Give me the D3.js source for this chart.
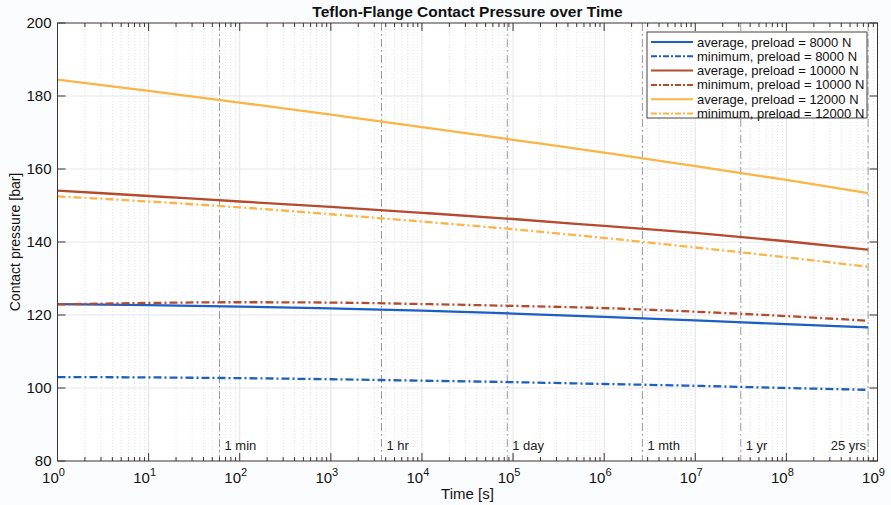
<!DOCTYPE html>
<html>
<head>
<meta charset="utf-8">
<script src="https://cdn.jsdelivr.net/npm/d3@7"></script>
<style>
  body { margin: 0; background: #fbfcfe; }
  svg { font-family: "Liberation Sans", Arial, sans-serif; }
</style>
</head>
<body>
<div id="app"></div>
<script>
// time points (s): decades plus the 25 year end point
var times = [1, 1e1, 1e2, 1e3, 1e4, 1e5, 1e6, 1e7, 1e8, 7.884e8];

var avg8000 = [123.0, 122.7, 122.3, 121.8, 121.2, 120.4, 119.5, 118.5, 117.5, 116.6];
var min8000 = [103.0, 102.9, 102.7, 102.4, 102.0, 101.6, 101.1, 100.6, 100.0, 99.5];
var avg10000 = [154.1, 152.6, 151.1, 149.6, 148.0, 146.3, 144.4, 142.5, 140.2, 137.9];
var min10000 = [122.9, 123.3, 123.5, 123.4, 123.0, 122.5, 121.9, 120.9, 119.7, 118.4];
var avg12000 = [184.5, 181.4, 178.2, 174.9, 171.5, 168.0, 164.5, 160.8, 157.0, 153.4];
var min12000 = [152.5, 151.1, 149.5, 147.6, 145.6, 143.5, 141.1, 138.5, 135.8, 133.2];

var seriesNames = ["average, preload = 8000 N", "minimum, preload = 8000 N",
    "average, preload = 10000 N", "minimum, preload = 10000 N",
    "average, preload = 12000 N", "minimum, preload = 12000 N"];
var seriesValues = [avg8000, min8000, avg10000, min10000, avg12000, min12000];

var markerTimes = [60, 3600, 86400, 2.628e6, 3.156e7, 7.884e8];
var markerLabels = ["1 min", "1 hr", "1 day", "1 mth", "1 yr", "25 yrs"];

var yTicks = [80, 100, 120, 140, 160, 180, 200];
var xDecades = [0, 1, 2, 3, 4, 5, 6, 7, 8, 9];

var W = 891, H = 505;
var plotL = 57.5, plotR = 877.5, plotT = 23, plotB = 461;

var blue = "#1b5fc4", red = "#b54a2d", yellow = "#fbb445";
var colors = [blue, blue, red, red, yellow, yellow];
var dashDot = "8,3,2,3";
var axisColor = "#3d3331";

var x = d3.scaleLog().domain([1, 1e9]).range([plotL, plotR]);
var y = d3.scaleLinear().domain([80, 200]).range([plotB, plotT]);

var svg = d3.select("#app").append("svg")
    .attr("width", W)
    .attr("height", H);

svg.append("rect")
    .attr("x", plotL).attr("y", plotT)
    .attr("width", plotR - plotL).attr("height", plotB - plotT)
    .style("fill", "#ffffff");

// minor ticks values
var minorVals = [];
xDecades.slice(0, 9).forEach(function (d) {
    for (var k = 2; k <= 9; k++) minorVals.push(k * Math.pow(10, d));
});

//GRID
svg.append("g").selectAll("line")
    .data(minorVals)
    .enter().append("line")
    .attr("x1", function (d) { return x(d); })
    .attr("x2", function (d) { return x(d); })
    .attr("y1", plotT).attr("y2", plotB)
    .style("stroke", "#d3dbe6")
    .style("stroke-width", 0.8)
    .style("stroke-dasharray", "1,2");

svg.append("g").selectAll("line")
    .data(xDecades.slice(1, 9))
    .enter().append("line")
    .attr("x1", function (d) { return x(Math.pow(10, d)); })
    .attr("x2", function (d) { return x(Math.pow(10, d)); })
    .attr("y1", plotT).attr("y2", plotB)
    .style("stroke", "#e3e3e6")
    .style("stroke-width", 1);

svg.append("g").selectAll("line")
    .data(yTicks.slice(1, -1))
    .enter().append("line")
    .attr("x1", plotL).attr("x2", plotR)
    .attr("y1", function (d) { return y(d); })
    .attr("y2", function (d) { return y(d); })
    .style("stroke", "#e6e6e8")
    .style("stroke-width", 1);

//MARKER LINES
svg.append("g").selectAll("line")
    .data(markerTimes)
    .enter().append("line")
    .attr("x1", function (d) { return x(d); })
    .attr("x2", function (d) { return x(d); })
    .attr("y1", plotT).attr("y2", plotB)
    .style("stroke", "#9a9a9e")
    .style("stroke-width", 1)
    .style("stroke-dasharray", "8,3,2,3");

svg.append("g").selectAll("text")
    .data(markerTimes)
    .enter().append("text")
    .attr("x", function (d, i) { return i === markerTimes.length - 1 ? x(d) - 2 : x(d) + 5; })
    .attr("y", 450)
    .attr("text-anchor", function (d, i) { return i === markerTimes.length - 1 ? "end" : "start"; })
    .style("font-size", "13px")
    .style("fill", "#222")
    .text(function (d, i) { return markerLabels[i]; });

//SERIES
var line = d3.line()
    .x(function (d, i) { return x(times[i]); })
    .y(function (d) { return y(d); })
    .curve(d3.curveMonotoneX);

svg.append("g").selectAll("path")
    .data(seriesValues)
    .enter().append("path")
    .attr("d", line)
    .style("fill", "none")
    .style("stroke", function (d, i) { return colors[i]; })
    .style("stroke-width", 2.3)
    .style("stroke-dasharray", function (d, i) { return i % 2 ? dashDot : null; });

//AXES BOX
svg.append("rect")
    .attr("x", plotL).attr("y", plotT)
    .attr("width", plotR - plotL).attr("height", plotB - plotT)
    .style("fill", "none")
    .style("stroke", axisColor)
    .style("stroke-width", 1);

// x ticks, inward on bottom and top
var xMajor = xDecades.map(function (d) { return Math.pow(10, d); });
[plotB, plotT].forEach(function (edge) {
    var dir = edge === plotB ? -1 : 1;
    svg.append("g").selectAll("line")
        .data(xMajor)
        .enter().append("line")
        .attr("x1", function (d) { return x(d); })
        .attr("x2", function (d) { return x(d); })
        .attr("y1", edge).attr("y2", edge + dir * 8)
        .style("stroke", axisColor);
    svg.append("g").selectAll("line")
        .data(minorVals)
        .enter().append("line")
        .attr("x1", function (d) { return x(d); })
        .attr("x2", function (d) { return x(d); })
        .attr("y1", edge).attr("y2", edge + dir * 4)
        .style("stroke", axisColor);
});

// y ticks, inward on left and right
[plotL, plotR].forEach(function (edge) {
    var dir = edge === plotL ? 1 : -1;
    svg.append("g").selectAll("line")
        .data(yTicks)
        .enter().append("line")
        .attr("x1", edge).attr("x2", edge + dir * 8)
        .attr("y1", function (d) { return y(d); })
        .attr("y2", function (d) { return y(d); })
        .style("stroke", axisColor);
});

// tick labels
svg.append("g").selectAll("text")
    .data(yTicks)
    .enter().append("text")
    .attr("x", plotL - 6)
    .attr("y", function (d) { return y(d) + 5; })
    .attr("text-anchor", "end")
    .style("font-size", "15px")
    .style("fill", "#111")
    .text(function (d) { return d; });

var xl = svg.append("g").selectAll("text")
    .data(xDecades)
    .enter().append("text")
    .attr("x", function (d) { return x(Math.pow(10, d)) - 4; })
    .attr("y", 483)
    .attr("text-anchor", "middle")
    .style("font-size", "15px")
    .style("fill", "#111");
xl.append("tspan").text("10");
xl.append("tspan")
    .attr("dy", -7)
    .style("font-size", "11px")
    .text(function (d) { return d; });

//LABELS
svg.append("text")
    .attr("x", (plotL + plotR) / 2)
    .attr("y", 499)
    .attr("text-anchor", "middle")
    .style("font-size", "15px")
    .style("fill", "#111")
    .text("Time [s]");

svg.append("text")
    .attr("transform", "translate(20," + ((plotT + plotB) / 2) + ") rotate(-90)")
    .attr("text-anchor", "middle")
    .style("font-size", "14px")
    .style("fill", "#111")
    .text("Contact pressure [bar]");

svg.append("text")
    .attr("x", (plotL + plotR) / 2)
    .attr("y", 17)
    .attr("text-anchor", "middle")
    .style("font-size", "15.5px")
    .style("font-weight", "bold")
    .style("fill", "#111")
    .text("Teflon-Flange Contact Pressure over Time");

//LEGEND
var legX = 647, legY = 32, legW = 220, legH = 86;
svg.append("rect")
    .attr("x", legX).attr("y", legY)
    .attr("width", legW).attr("height", legH)
    .style("fill", "#ffffff")
    .style("stroke", "#4a4040")
    .style("stroke-width", 1);

var leg = svg.append("g").selectAll("g")
    .data(seriesNames)
    .enter().append("g")
    .attr("transform", function (d, i) { return "translate(" + legX + "," + (legY + 10 + i * 14.3) + ")"; });
leg.append("line")
    .attr("x1", 4).attr("x2", 46)
    .attr("y1", 0).attr("y2", 0)
    .style("stroke", function (d, i) { return colors[i]; })
    .style("stroke-width", 2)
    .style("stroke-dasharray", function (d, i) { return i % 2 ? "6,2,2,2" : null; });
leg.append("text")
    .attr("x", 50)
    .attr("y", 4.5)
    .style("font-size", "13px")
    .style("fill", "#111")
    .text(function (d) { return d; });
</script>
</body>
</html>
